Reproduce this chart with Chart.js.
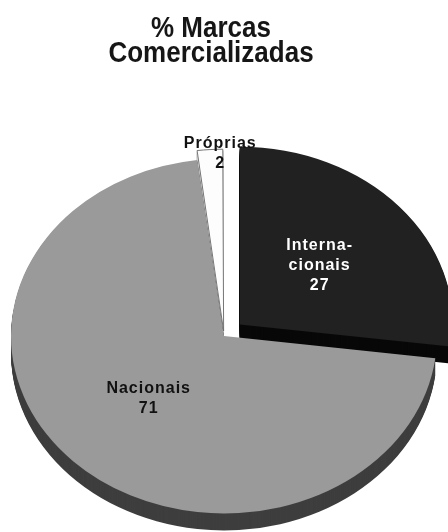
<!DOCTYPE html>
<html>
<head>
<meta charset="utf-8">
<script src="https://cdn.jsdelivr.net/npm/chart.js@4/dist/chart.umd.min.js"></script>
<style>
  html, body { margin: 0; padding: 0; background: #fff; }
  #wrap { width: 448px; height: 532px; }
</style>
</head>
<body>
<div id="wrap"><canvas id="marcasChart" width="448" height="532"></canvas></div>
<script>
const titleLines = ['% Marcas', 'Comercializadas'];
const categories = ['Internacionais', 'Nacionais', 'Próprias'];
const values = [27, 71, 2];
const labelLines = [['Interna-', 'cionais'], ['Nacionais'], ['Próprias']];

// styling
const faceColors = ['#212121', '#9a9a9a', '#fdfdfd'];
const sideColors = ['#080808', '#3e3e3e', '#d9d9d9'];
const textColors = ['#ffffff', '#111111', '#111111'];
const explode = [84, 0, 24];
const labelRadius = [0.5, 0.5, 1.0];
const labelNudge = [[0, 0], [0, 0], [10, 0]];

const TILT = 0.833;   // squash the pie into an ellipse
const DEPTH = 17;     // thickness of the 3d side

function tilt(ctx, cx, cy) {
  ctx.translate(cx, cy);
  ctx.scale(1, TILT);
  ctx.translate(-cx, -cy);
}

const pie3dPlugin = {
  id: 'pie3d',
  beforeDatasetsDraw(chart) {
    const ctx = chart.ctx;
    const meta = chart.getDatasetMeta(0);
    const cx = meta.data[0].x, cy = meta.data[0].y;
    // side walls: the slice shape stacked downwards
    for (let d = DEPTH; d >= 1; d--) {
      meta.data.forEach((arc, i) => {
        const p = arc.getProps(['x', 'y', 'startAngle', 'endAngle', 'outerRadius', 'circumference']);
        const off = (arc.options.offset || 0) / 4;
        const mid = (p.startAngle + p.endAngle) / 2;
        const fix = 1 - Math.sin(Math.min(Math.PI, p.circumference));
        const r = p.outerRadius + off * fix;
        ctx.save();
        ctx.translate(0, d);
        tilt(ctx, cx, cy);
        ctx.translate(Math.cos(mid) * off, Math.sin(mid) * off);
        ctx.beginPath();
        ctx.moveTo(p.x, p.y);
        ctx.arc(p.x, p.y, r, p.startAngle, p.endAngle);
        ctx.closePath();
        ctx.fillStyle = sideColors[i];
        ctx.fill();
        ctx.restore();
      });
    }
    ctx.save();
    tilt(ctx, cx, cy);
  },
  afterDatasetsDraw(chart) {
    const ctx = chart.ctx;
    ctx.restore();
    const meta = chart.getDatasetMeta(0);
    ctx.save();
    ctx.font = 'bold 16px "Liberation Sans", Arial, sans-serif';
    ctx.letterSpacing = '1px';
    ctx.textAlign = 'center';
    ctx.textBaseline = 'middle';
    meta.data.forEach((arc, i) => {
      const p = arc.getProps(['x', 'y', 'startAngle', 'endAngle', 'outerRadius']);
      const off = (arc.options.offset || 0) / 4;
      const mid = (p.startAngle + p.endAngle) / 2;
      const r = off + p.outerRadius * labelRadius[i];
      const x = p.x + Math.cos(mid) * r + labelNudge[i][0];
      const y = p.y + Math.sin(mid) * r * TILT + labelNudge[i][1];
      const lines = labelLines[i].concat(String(values[i]));
      const lh = 20;
      ctx.fillStyle = textColors[i];
      lines.forEach((t, k) => {
        ctx.fillText(t, x, y + (k - (lines.length - 1) / 2) * lh);
      });
    });
    ctx.restore();
  }
};

const titlePlugin = {
  id: 'stretchedTitle',
  afterDraw(chart) {
    const ctx = chart.ctx;
    ctx.save();
    ctx.font = 'bold 26px "Liberation Sans", Arial, sans-serif';
    ctx.fillStyle = '#161616';
    ctx.textAlign = 'center';
    ctx.textBaseline = 'middle';
    titleLines.forEach((line, i) => {
      ctx.save();
      ctx.translate(211, 29 + i * 25);
      ctx.scale(1, 1.12);
      ctx.fillText(line, 0, 0);
      ctx.restore();
    });
    ctx.restore();
  }
};

const ctx = document.getElementById('marcasChart').getContext('2d');
new Chart(ctx, {
  type: 'pie',
  data: {
    labels: categories,
    datasets: [{
      data: values,
      backgroundColor: faceColors,
      borderColor: ['#ffffff', '#ffffff', '#6b6b6b'],
      borderWidth: [0, 0, 1],
      offset: explode,
      clip: false
    }]
  },
  options: {
    responsive: false,
    animation: false,
    events: [],
    radius: 213,
    layout: { padding: { top: 140 } },
    plugins: {
      legend: { display: false },
      title: { display: false },
      tooltip: { enabled: false }
    }
  },
  plugins: [pie3dPlugin, titlePlugin]
});
</script>
</body>
</html>
